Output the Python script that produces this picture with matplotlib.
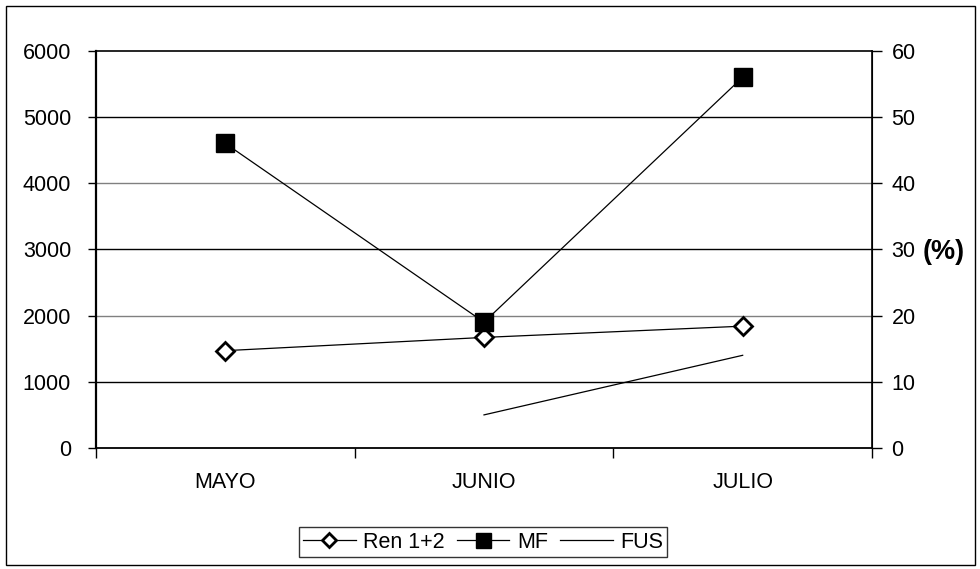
import matplotlib
matplotlib.use("Agg")
import matplotlib.pyplot as plt
import numpy as np
from matplotlib.patches import Rectangle

plt.rcParams['font.family'] = ['Liberation Sans', 'DejaVu Sans']

# Data
months = ["MAYO", "JUNIO", "JULIO"]
ren_12 = [1470, 1670, 1840]
mf = [4600, 1900, 5600]
fus_pct = [np.nan, 5, 14]

left_ticks = [0, 1000, 2000, 3000, 4000, 5000, 6000]
right_ticks = [0, 10, 20, 30, 40, 50, 60]

FS = 15.5

fig = plt.figure(figsize=(9.8, 5.69), dpi=100)
fig.patch.set_facecolor("white")
# outer chart frame
fig.add_artist(Rectangle((6 / 980, 1 - 565 / 569), 969 / 980, 559 / 569,
                         transform=fig.transFigure, fill=False,
                         edgecolor="black", linewidth=1.0))

ax = fig.add_axes([96 / 980, 1 - 448 / 569, (872 - 96) / 980, (448 - 50.7) / 569])
ax2 = ax.twinx()

x = np.arange(len(months))

# horizontal gridlines
grid_colors = ["black", "#808080", "black", "#808080", "black"]
for val, c in zip(left_ticks[1:-1], grid_colors):
    ax.axhline(val, color=c, linewidth=1.0, zorder=1)

ax.plot(x, ren_12, color="black", linewidth=0.9, marker="D", markersize=9.5,
        markerfacecolor="white", markeredgecolor="black", markeredgewidth=2.0,
        label="Ren 1+2", zorder=3)
ax.plot(x, mf, color="black", linewidth=0.9, marker="s", markersize=13.5,
        markerfacecolor="black", markeredgecolor="black",
        label="MF", zorder=4)
ax2.plot(x, fus_pct, color="black", linewidth=0.9, label="FUS", zorder=3)

ax.set_xlim(-0.5, 2.5)
ax.set_ylim(0, 6000)
ax2.set_ylim(0, 60)

ax.set_yticks(left_ticks)
ax.set_yticklabels([str(v) for v in left_ticks], fontsize=FS)
ax2.set_yticks(right_ticks)
ax2.set_yticklabels([str(v) for v in right_ticks], fontsize=FS)

# category separators as major ticks, month names as minor ticks
ax.set_xticks([-0.5, 0.5, 1.5, 2.5])
ax.set_xticklabels([])
ax.set_xticks(x, minor=True)
ax.set_xticklabels(months, minor=True, fontsize=FS)
ax.tick_params(axis="x", which="major", direction="out", length=7, width=1, color="black")
ax.tick_params(axis="x", which="minor", length=0, pad=17)
ax.tick_params(axis="y", direction="out", length=6, width=1, pad=12, color="black")
ax2.tick_params(axis="y", direction="out", length=7, width=1, pad=7, color="black")

for a in (ax, ax2):
    for s in a.spines.values():
        s.set_color("black")
ax.spines["left"].set_linewidth(1.6)
ax.spines["bottom"].set_linewidth(1.3)
ax.spines["top"].set_linewidth(1.2)
ax2.spines["right"].set_linewidth(1.2)
ax2.spines["left"].set_visible(False)
ax2.spines["top"].set_visible(False)
ax2.spines["bottom"].set_visible(False)

fig.text(944 / 980, 1 - 252 / 569, "(%)", fontsize=19.5, fontweight="bold",
         ha="center", va="center")

h1, l1 = ax.get_legend_handles_labels()
h2, l2 = ax2.get_legend_handles_labels()
leg = fig.legend(h1 + h2, l1 + l2, loc="center", bbox_to_anchor=(483 / 980, 1 - 542 / 569),
                 ncol=3, fontsize=FS, frameon=True, fancybox=False, edgecolor="black",
                 handlelength=2.45, handletextpad=0.35, columnspacing=0.55,
                 borderpad=0.2, markerscale=0.8, borderaxespad=0)
leg.get_frame().set_linewidth(1.0)

fig.savefig("out.png", dpi=100, facecolor="white")
